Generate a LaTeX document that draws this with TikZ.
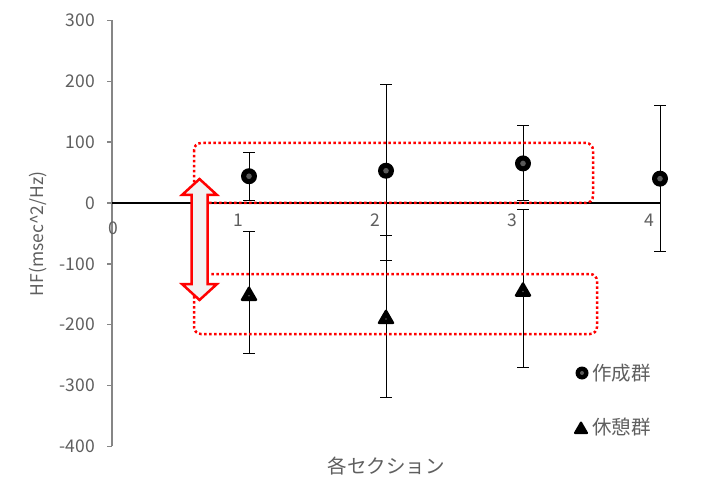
\documentclass[tikz,border=0pt]{standalone}
\usepackage{fontspec}
\setmainfont{Noto Sans CJK JP}
\usetikzlibrary{shapes.geometric}
\definecolor{txt}{HTML}{5F5F5F}
\definecolor{axisgray}{HTML}{868686}
\definecolor{markfill}{HTML}{5A5A5A}
\definecolor{arrowfill}{HTML}{F2F2F2}
\tikzset{
  lbl/.style={text=txt, inner sep=0pt},
  jp/.style={lbl, font=\fontsize{19.5}{22}\selectfont},
  ebar/.style={draw=black, line width=0.9pt},
  cmark/.style={circle, fill=black, minimum size=16pt, inner sep=0pt},
  tmark/.style={regular polygon, regular polygon sides=3, draw=black, fill=black, line width=2.5pt, line join=round, minimum size=16pt, inner sep=0pt, yshift=-1.5pt},
  redbox/.style={draw=red, line width=2.5pt, dash pattern=on 2.5pt off 2.5pt, rounded corners=7pt},
  bigarrow/.style={draw=red, line width=2.5pt, fill=arrowfill, line join=miter}
}
\newcommand\errbar[3]{%
  \draw[ebar] (#1,#2) -- (#1,#3);
  \draw[ebar] ([xshift=-6pt]#1,#2) -- ([xshift=6pt]#1,#2);
  \draw[ebar] ([xshift=-6pt]#1,#3) -- ([xshift=6pt]#1,#3);}
\begin{document}
\begin{tikzpicture}[x=1pt,y=-1pt,font=\fontsize{17.5}{20}\selectfont]
\useasboundingbox (0,0) rectangle (702,484);
\fill[white] (0,0) rectangle (702,484);
\begin{scope}[shift={(112,203)}, x=137pt, y=0.6086pt]
  % y axis
  \draw[axisgray, line width=1.5pt] (0,-400) coordinate (ybot) -- (0,300) coordinate (ytop);
  \foreach \v in {-400,-300,...,300} {
    \draw[axisgray, line width=1.5pt] ([xshift=-5pt]0,\v) -- (0,\v);
    \node[lbl, anchor=east] (yl\v) at ([xshift=-17pt]0,\v) {\v};
  }
  % x axis
  \draw[black, line width=2pt] (0,0) coordinate (xo) -- (4,0) coordinate (xe);
  \node[lbl] (xl0) at ([xshift=1pt,yshift=-25pt]0,0) {0};
  \foreach \i in {1,2,3,4} {
    \node[lbl] (xl\i) at ([xshift=-11pt,yshift=-17pt]\i,0) {\i};
  }
  % error bars
  \errbar{1}{83}{5}
  \errbar{2}{195}{-94}
  \errbar{3}{128}{4}
  \errbar{4}{160}{-79}
  \errbar{1}{-46}{-247}
  \errbar{2}{-54}{-319}
  \errbar{3}{-11}{-270}
  % markers
  \node[cmark] (c1) at (1,44) {};
  \node[cmark] (c2) at (2,53) {};
  \node[cmark] (c3) at (3,65) {};
  \node[cmark] (c4) at (4,40) {};
  \foreach \n in {c1,c2,c3,c4} { \fill[markfill] (\n.center) circle (2.8pt); }
  \node[tmark] (t1) at (1,-150) {};
  \node[tmark] (t2) at (2,-188) {};
  \node[tmark] (t3) at (3,-143) {};
  \foreach \n in {t1,t2,t3} { \fill[markfill] (\n.center) circle (0.9pt); }
\end{scope}
% red dotted boxes
\draw[redbox] (194,143) rectangle (593,203);
\draw[redbox] (194,274) rectangle (597,334);
% double arrow
\draw[bigarrow] (199.5,179) -- (217,195) -- (207.5,195) -- (207.5,284) -- (217,284)
  -- (199.5,300) -- (182,284) -- (191.5,284) -- (191.5,195) -- (182,195) -- cycle;
% axis titles
\node[lbl, rotate=90] (ytitle) at (38,234) {HF(msec\textasciicircum 2/Hz)};
\node[jp] (xtitle) at (386,466) {各セクション};
% legend
\node[cmark, minimum size=13pt] (lg1) at (582,373) {};
\fill[markfill] (lg1.center) circle (2pt);
\node[lbl, anchor=west, font=\fontsize{19.5}{22}\selectfont] (lt1) at (592,373) {作成群};
\node[tmark, minimum size=14pt, line width=2pt] (lg2) at (581,428) {};
\node[lbl, anchor=west, font=\fontsize{19.5}{22}\selectfont] (lt2) at (592,427) {休憩群};
\end{tikzpicture}
\end{document}
